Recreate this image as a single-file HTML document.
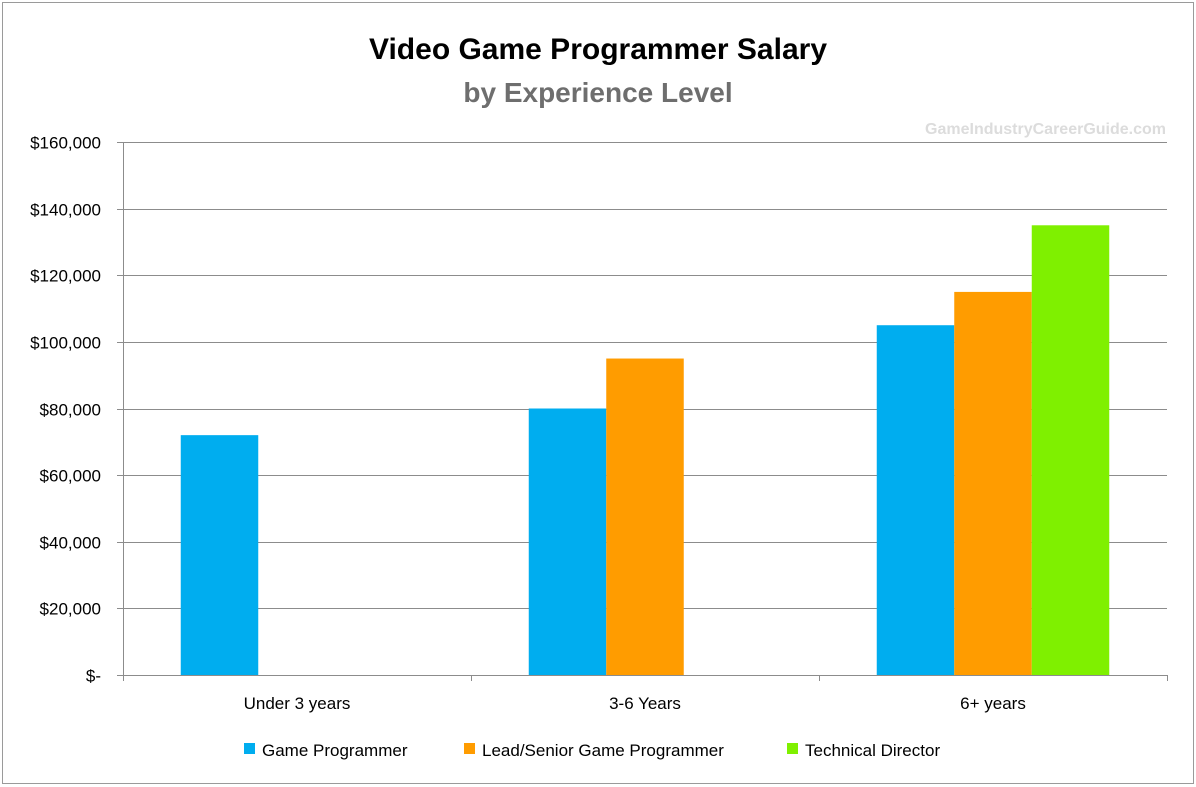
<!DOCTYPE html>
<html><head><meta charset="utf-8"><style>
body{margin:0;background:#fff}
svg{display:block;font-family:"Liberation Sans",sans-serif}
</style></head><body>
<svg id="chart" width="1196" height="787">
<rect x="2.5" y="2.5" width="1191" height="781" fill="#fff" stroke="#9a9a9a"/>
<text x="598" y="59" text-anchor="middle" font-size="30" font-weight="bold" fill="#000">Video Game Programmer Salary</text>
<text x="598" y="102" text-anchor="middle" font-size="28" font-weight="bold" fill="#6e6e6e">by Experience Level</text>
<text x="1166" y="134" text-anchor="end" font-size="16" font-weight="bold" fill="#dcdcdc">GameIndustryCareerGuide.com</text>
<g id="grid"></g><g id="bars"></g><g id="axes"></g><g id="legend"></g>
</svg>
<script>
const categories=["Under 3 years","3-6 Years","6+ years"];
const seriesNames=["Game Programmer","Lead/Senior Game Programmer","Technical Director"];
const gameProgrammer=[72000,80000,105000];
const leadProgrammer=[null,95000,115000];
const technicalDirector=[null,null,135000];
const yTicks=[0,20000,40000,60000,80000,100000,120000,140000,160000];
const yTickLabels=["$-","$20,000","$40,000","$60,000","$80,000","$100,000","$120,000","$140,000","$160,000"];
const colors=["#00adef","#ff9c00","#7ff000"];
const NS="http://www.w3.org/2000/svg";
const X0=123,X1=1167,Y0=675,Y1=142,YMAX=160000;
const yS=v=>Y0-(v/YMAX)*(Y0-Y1);
const cw=(X1-X0)/categories.length;
const bw=77.5;
const xC=i=>X0+i*cw;
function mk(p,t,a){const e=document.createElementNS(NS,t);for(const k in a)e.setAttribute(k,a[k]);p.appendChild(e);return e;}
const grid=document.getElementById('grid'),bars=document.getElementById('bars'),axes=document.getElementById('axes'),legend=document.getElementById('legend');
yTicks.forEach((v,i)=>{
  const y=Math.round(yS(v))+0.5;
  if(i>0){const l=mk(grid,'line',{x1:X0,x2:X1,y1:y,y2:y,stroke:'#8c8c8c','stroke-width':1});
  
  }
  const tk=mk(axes,'line',{x1:117,x2:X0,y1:y,y2:y,stroke:'#8c8c8c'});
  
  
  const t=mk(axes,'text',{x:101,y:y+6,'text-anchor':'end','font-size':17,fill:'#000'});
  t.textContent=yTickLabels[i];
  
  
});
const series=[gameProgrammer,leadProgrammer,technicalDirector];
const groupOff=(cw-bw*3)/2;
series.forEach((s,si)=>s.forEach((v,ci)=>{
  if(v==null)return;
  const x=xC(ci)+groupOff+si*bw;
  const r=mk(bars,'rect',{x:x,y:yS(v),width:bw,height:Y0-yS(v),fill:colors[si]});
  
  
}));
const ya=mk(axes,'line',{x1:X0+0.5,x2:X0+0.5,y1:Y1,y2:Y0,stroke:'#8c8c8c'});


const xa=mk(axes,'line',{x1:X0,x2:X1,y1:Y0+0.5,y2:Y0+0.5,stroke:'#8c8c8c'});


for(let i=0;i<=categories.length;i++){
  const x=Math.round(xC(i))+0.5;
  const tk=mk(axes,'line',{x1:x,x2:x,y1:Y0,y2:Y0+6,stroke:'#8c8c8c'});
  
  
}
categories.forEach((c,i)=>{
  const t=mk(axes,'text',{x:xC(i)+cw/2,y:709,'text-anchor':'middle','font-size':17,fill:'#000'});
  t.textContent=c;
  
  
});
const lx=[244,464,787];
seriesNames.forEach((n,i)=>{
  const r=mk(legend,'rect',{x:lx[i],y:743,width:11,height:11,fill:colors[i]});
  
  
  const t=mk(legend,'text',{x:lx[i]+18,y:756,'font-size':17,fill:'#000'});
  t.textContent=n;
  
  
});
</script>
</body></html>
